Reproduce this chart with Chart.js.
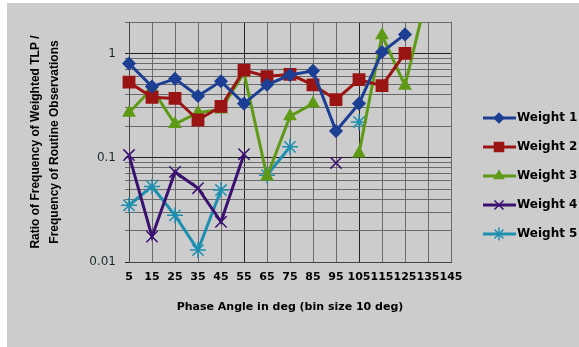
<!DOCTYPE html>
<html>
<head>
<meta charset="utf-8">
<script src="https://cdn.jsdelivr.net/npm/chart.js@4/dist/chart.umd.min.js"></script>
<style>
  body { margin: 0; background: #ffffff; }
</style>
</head>
<body>
<canvas id="chart" width="579" height="347"></canvas>
<script>
"use strict";

const phaseAngles = ['5', '15', '25', '35', '45', '55', '65', '75', '85', '95', '105', '115', '125', '135', '145'];

const weight1 = [0.80, 0.48, 0.57, 0.39, 0.54, 0.33, 0.50, 0.62, 0.68, 0.18, 0.33, 1.03, 1.52, null, null];
const weight2 = [0.53, 0.38, 0.37, 0.23, 0.31, 0.69, 0.60, 0.63, 0.50, 0.36, 0.56, 0.49, 1.0, null, null];
const weight3 = [0.27, 0.46, 0.21, 0.27, 0.29, 0.65, 0.066, 0.25, 0.33, null, 0.11, 1.49, 0.49, 4.0, null];
const weight4 = [0.106, 0.0175, 0.073, 0.051, 0.0243, 0.108, null, null, null, 0.089, null, null, null, null, null];
const weight5 = [0.035, 0.053, 0.028, 0.013, 0.049, null, 0.068, 0.127, null, null, 0.22, null, null, null, null];

// log gridlines and the ones that get a label
const yGridValues = [0.01, 0.02, 0.03, 0.04, 0.05, 0.06, 0.07, 0.08, 0.09,
                     0.1, 0.2, 0.3, 0.4, 0.5, 0.6, 0.7, 0.8, 0.9, 1, 2];
const yTickLabels = [0.01, 0.1, 1];

function series(label, data, color, pointStyle, radius) {
    return {
        label: label,
        data: data,
        borderColor: color,
        backgroundColor: color,
        borderWidth: 3,
        pointStyle: pointStyle,
        pointRadius: radius,
        pointBorderWidth: 1.5,
        pointHoverRadius: radius,
        spanGaps: false,
        tension: 0
    };
}

const backgroundPlugin = {
    id: 'grayBackground',
    beforeDraw(chart) {
        const ctx = chart.ctx;
        ctx.save();
        ctx.fillStyle = '#ffffff';
        ctx.fillRect(0, 0, chart.width, chart.height);
        ctx.fillStyle = '#cccccc';
        ctx.fillRect(7, 3, chart.width - 7, chart.height - 3);
        ctx.restore();
    }
};

// legend drawn as line + marker + text like the original
const sideLegend = {
    id: 'sideLegend',
    afterDraw(chart) {
        const ctx = chart.ctx;
        chart.data.datasets.forEach((ds, i) => {
            const y = 118 + i * 29;
            ctx.save();
            ctx.strokeStyle = ds.borderColor;
            ctx.lineWidth = 3;
            ctx.beginPath();
            ctx.moveTo(483, y);
            ctx.lineTo(516, y);
            ctx.stroke();
            ctx.fillStyle = ds.backgroundColor;
            ctx.lineWidth = 1.5;
            Chart.helpers.drawPoint(ctx, {
                pointStyle: ds.pointStyle,
                radius: ds.pointRadius * 0.8,
                borderWidth: 1.5,
                rotation: 0
            }, 499, y);
            ctx.fillStyle = '#000000';
            ctx.font = 'bold 12px "DejaVu Sans"';
            ctx.textBaseline = 'middle';
            ctx.textAlign = 'left';
            ctx.fillText(ds.label, 517, y);
            ctx.restore();
        });
    }
};

const ctx = document.getElementById('chart').getContext('2d');

new Chart(ctx, {
    type: 'line',
    data: {
        labels: phaseAngles,
        datasets: [
            series('Weight 1', weight1, '#1c3f94', 'rectRot', 6),
            series('Weight 2', weight2, '#9a1414', 'rect', 8),
            series('Weight 3', weight3, '#5f9a16', 'triangle', 6.5),
            series('Weight 4', weight4, '#3a1070', 'crossRot', 8),
            series('Weight 5', weight5, '#1f8fb0', 'star', 8)
        ]
    },
    options: {
        responsive: false,
        animation: false,
        layout: {
            padding: { top: 22, right: 128, left: 0, bottom: 0 }
        },
        plugins: {
            legend: { display: false },
            tooltip: { enabled: false }
        },
        scales: {
            x: {
                type: 'category',
                offset: false,
                afterFit: scale => { scale.height = 85; },
                grid: {
                    color: c => (c.index === 5 || c.index === 10) ? '#222222' : '#6a6a6a',
                    lineWidth: 1,
                    tickLength: 0
                },
                border: { color: '#444444', width: 1 },
                ticks: {
                    autoSkip: false,
                    maxRotation: 0,
                    padding: 9,
                    color: '#000000',
                    font: { family: 'DejaVu Sans', size: 11, weight: 'bold' }
                },
                title: {
                    display: true,
                    text: 'Phase Angle in deg (bin size 10 deg)',
                    color: '#000000',
                    font: { family: 'DejaVu Sans', size: 11, weight: 'bold' },
                    padding: { top: 0, bottom: 33 }
                }
            },
            y: {
                type: 'logarithmic',
                min: 0.01,
                max: 2,
                afterFit: scale => { scale.width = 129; },
                afterBuildTicks: scale => {
                    scale.ticks = yGridValues.map(v => ({ value: v }));
                },
                grid: {
                    color: c => yTickLabels.includes(c.tick.value) ? '#222222' : '#6a6a6a',
                    lineWidth: 1,
                    tickLength: 4
                },
                border: { color: '#444444', width: 1 },
                ticks: {
                    autoSkip: false,
                    padding: 9,
                    color: '#1a2a2a',
                    font: { family: 'DejaVu Sans', size: 12 },
                    callback: value => yTickLabels.includes(value) ? String(value) : ''
                },
                title: {
                    display: true,
                    text: ['Ratio of Frequency of Weighted TLP /', 'Frequency of Routine Observations'],
                    color: '#000000',
                    font: { family: 'Liberation Sans', size: 12, weight: 'bold', lineHeight: 1.58 },
                    padding: { top: 26, bottom: 0 }
                }
            }
        }
    },
    plugins: [backgroundPlugin, sideLegend]
});
</script>
</body>
</html>
